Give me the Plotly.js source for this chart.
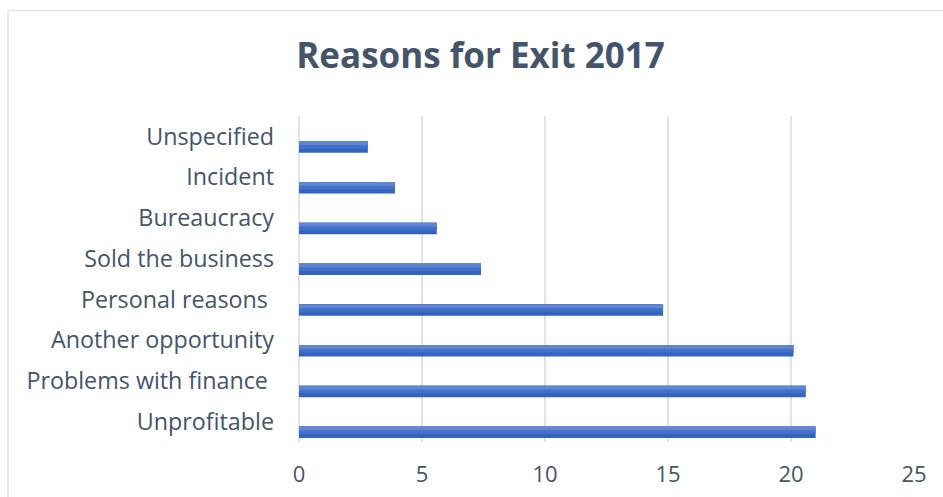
<!DOCTYPE html>
<html>
<head>
<meta charset="utf-8">
<script src="https://cdn.plot.ly/plotly-3.0.1.min.js"></script>
<style>html,body{margin:0;padding:0;background:#fff;}#chart{width:943px;height:497px;}</style>
</head>
<body>
<div id="chart"></div>
<script>
// Data (bottom to top, as drawn)
const categories = ["Unprofitable", "Problems with finance\u00a0", "Another opportunity", "Personal reasons\u00a0", "Sold the business", "Bureaucracy", "Incident", "Unspecified"];
const values = [21.0, 20.6, 20.1, 14.8, 7.4, 5.6, 3.9, 2.8];
const xTicks = [0, 5, 10, 15, 20, 25];
const chartTitle = "Reasons for Exit 2017";

const textColor = "#44546A";
const gridColor = "#dfe3ea";
// gradient approximation: overlapping bands, darker at the bottom
const bands = [
  {offset: -0.40, width: 0.28, color: "#3163bf"},
  {offset: -0.3067, width: 0.1867, color: "#4572c8"},
  {offset: -0.2133, width: 0.0933, color: "#5e86d2"}
];
const traces = bands.map(b => ({
  type: "bar",
  orientation: "h",
  x: values,
  y: categories,
  width: b.width,
  offset: b.offset,
  marker: {color: b.color, line: {width: 0}},
  hoverinfo: "x+y",
  showlegend: false
}));

const plotL = 299, plotR = 914, plotT = 116, plotB = 442;
const W = 943, H = 497;
const pw = plotR - plotL, ph = plotB - plotT;
const bx = (8 - plotL) / pw;
const by = (plotB - 10.5) / ph;

const layout = {
  width: W, height: H,
  margin: {l: plotL, r: W - plotR, t: plotT, b: H - plotB, pad: 0},
  paper_bgcolor: "#fff",
  plot_bgcolor: "#fff",
  barmode: "overlay",
  font: {family: "Open Sans, sans-serif", color: textColor},
  title: {
    text: "<b>" + chartTitle + "</b>",
    font: {family: "Open Sans, sans-serif", size: 35, color: textColor},
    x: 480.5 / W, xref: "container", xanchor: "center",
    y: 1 - 56 / H, yref: "container", yanchor: "middle"
  },
  xaxis: {
    range: [0, 25],
    tickvals: xTicks,
    ticktext: xTicks.map(String),
    showgrid: true, gridcolor: gridColor, gridwidth: 1.3,
    zeroline: true, zerolinecolor: gridColor, zerolinewidth: 1.3,
    showline: false,
    ticks: "",
    ticklabelstandoff: 17,
    tickfont: {family: "Open Sans, sans-serif", size: 22, color: textColor},
    fixedrange: true
  },
  yaxis: {
    type: "category",
    categoryorder: "array",
    categoryarray: categories,
    range: [-0.5, 7.5],
    showgrid: false, zeroline: false, showline: false,
    ticks: "",
    ticklabelstandoff: 24,
    tickfont: {family: "Open Sans, sans-serif", size: 23.3, color: textColor},
    fixedrange: true
  },
  shapes: [
    {type: "line", xref: "paper", yref: "paper", x0: bx, x1: 1.2, y0: by, y1: by, line: {color: gridColor, width: 1.5}, layer: "below"},
    {type: "line", xref: "paper", yref: "paper", x0: bx, x1: bx, y0: by, y1: -0.5, line: {color: gridColor, width: 1.5}, layer: "below"}
  ]
};

Plotly.newPlot("chart", traces, layout, {displayModeBar: false, staticPlot: true});
</script>
</body>
</html>
